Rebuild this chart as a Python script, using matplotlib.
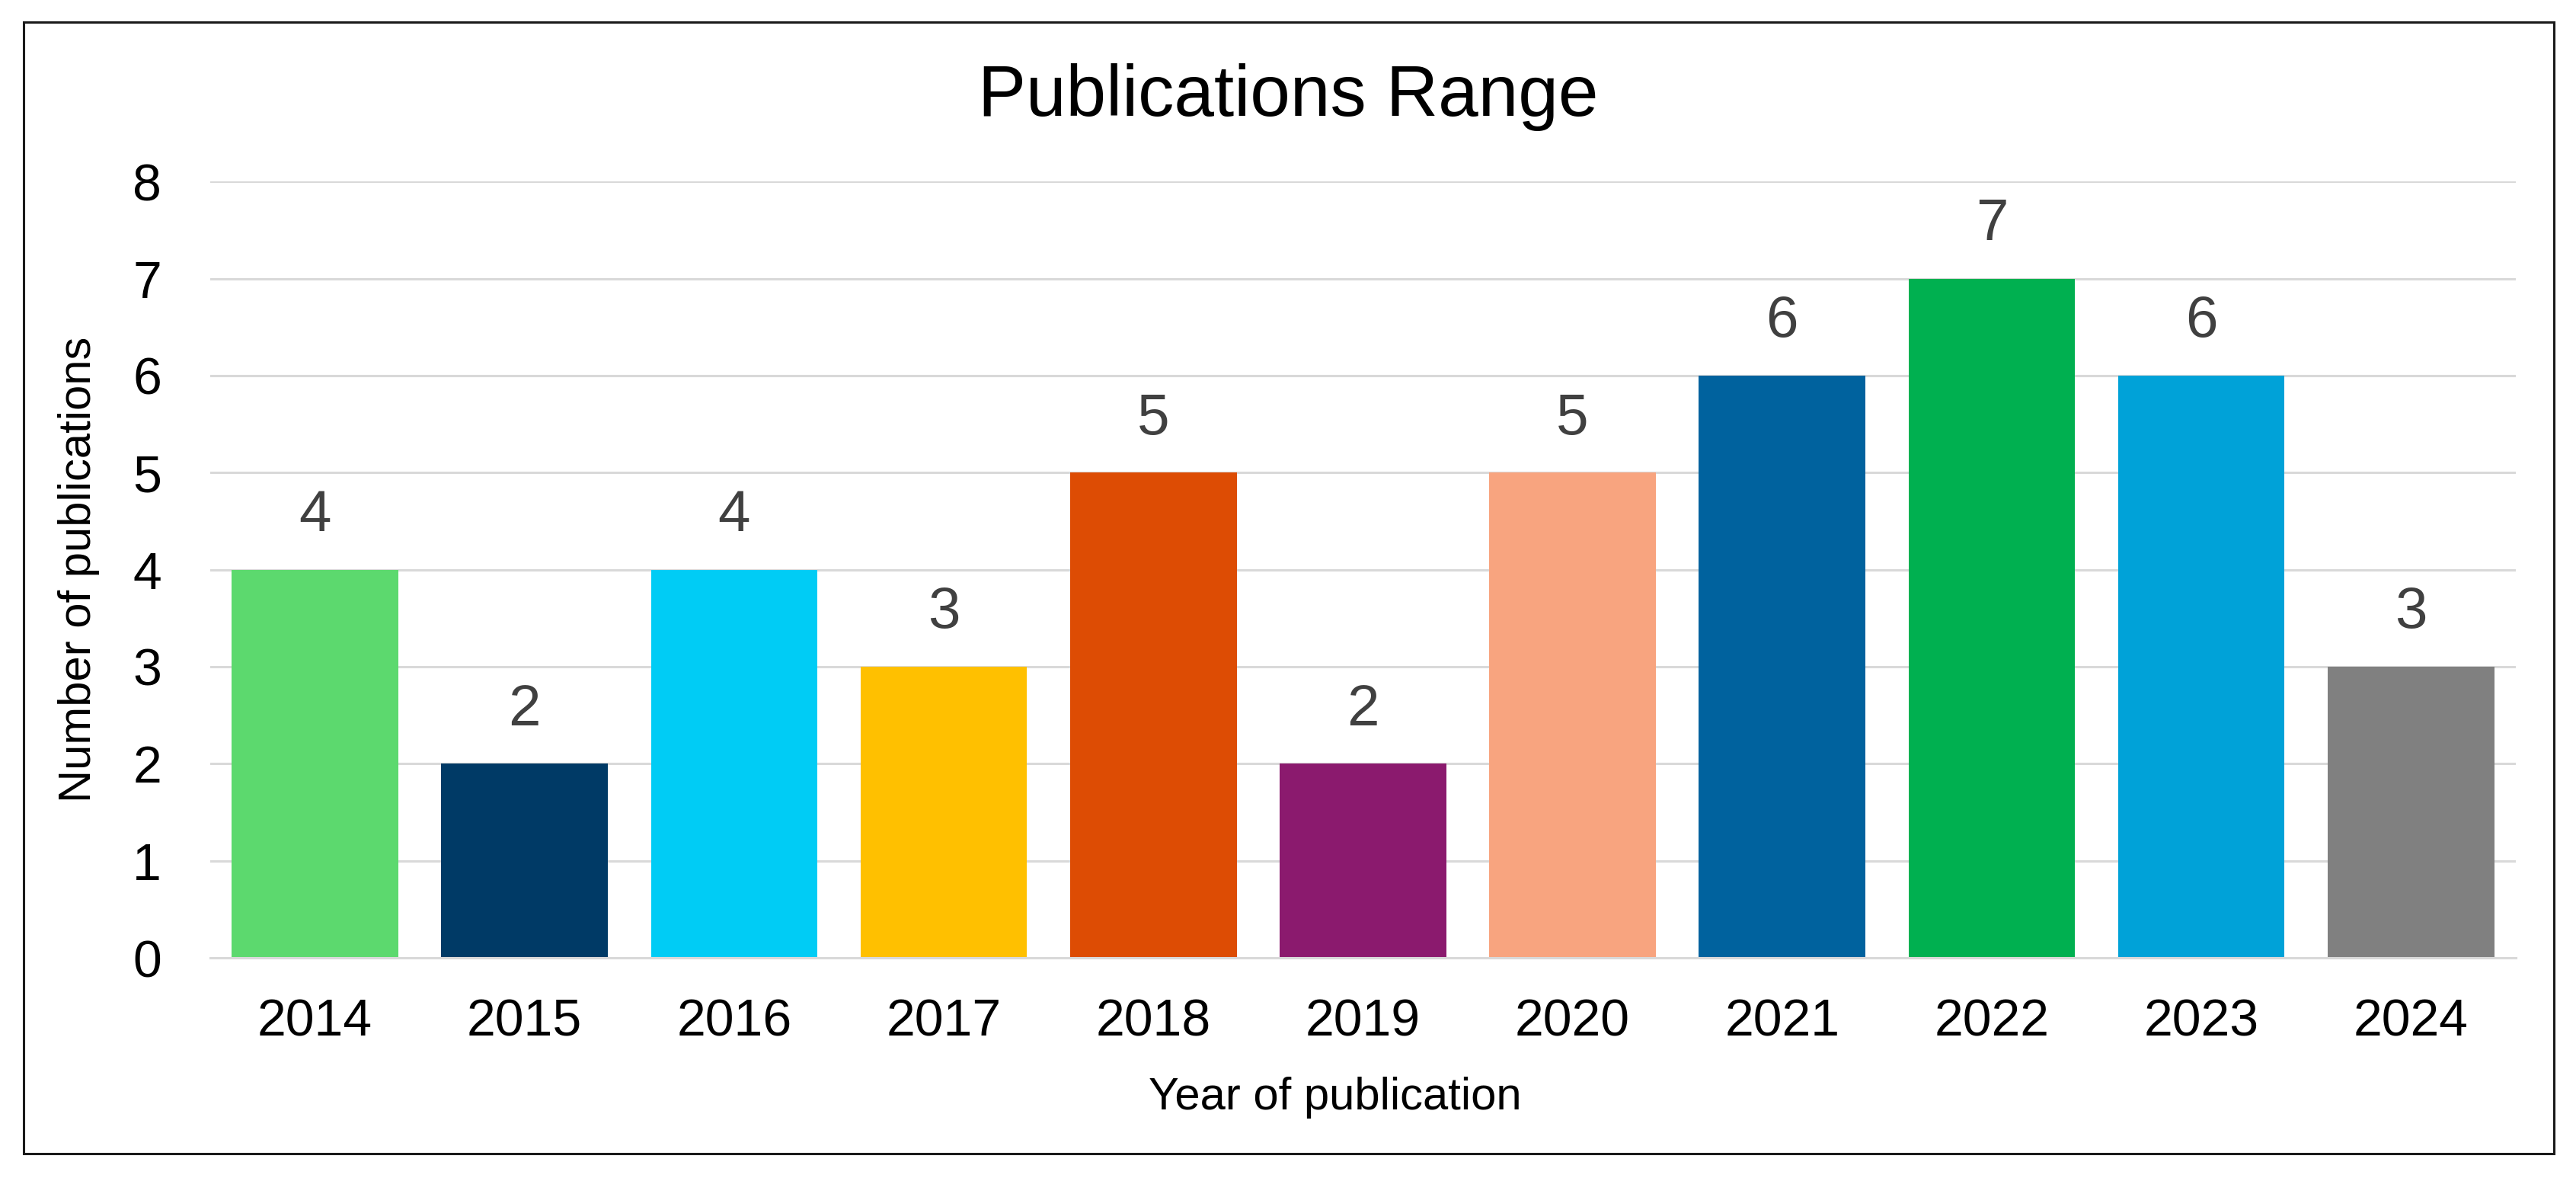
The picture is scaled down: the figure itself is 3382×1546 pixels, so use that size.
"""Bar chart of the number of publications per year."""

from matplotlib import pyplot
from matplotlib.patches import Rectangle
import numpy

# Data.
years = ['2014', '2015', '2016', '2017', '2018', '2019',
         '2020', '2021', '2022', '2023', '2024']
counts = [4, 2, 4, 3, 5, 2, 5, 6, 7, 6, 3]
colors = ['#5CD96E', '#003A66', '#00CCF5', '#FFC000', '#DD4C04', '#8B1A6E',
          '#F8A47F', '#00629E', '#00B050', '#00A2D8', '#808080']
yticks = [0, 1, 2, 3, 4, 5, 6, 7, 8]

pyplot.rc('font', family=['Liberation Sans', 'DejaVu Sans'])

fig = pyplot.figure(figsize=(33.82, 15.46), dpi=100)
ax = fig.add_axes([0.0816, 0.1869, 0.895, 0.659])

x = numpy.arange(len(years))
bars = ax.bar(x, counts, width=0.795, color=colors, zorder=2)
for rect, value in zip(bars, counts):
    ax.annotate(str(value),
                xy=(rect.get_x() + rect.get_width() / 2, rect.get_height()),
                xytext=(0, 25), textcoords='offset points',
                ha='center', va='bottom', fontsize=55, color='#404040')

ax.set_xlim(-0.5, len(years) - 0.5)
ax.set_ylim(yticks[0], yticks[-1])
ax.set_xticks(x)
ax.set_xticklabels(years)
ax.set_yticks(yticks)
ax.tick_params(axis='x', length=0, pad=38, labelsize=49)
ax.tick_params(axis='y', length=0, pad=46, labelsize=49)
ax.grid(axis='y', color='#D9D9D9', linewidth=2.2, zorder=0)
ax.set_axisbelow(True)
for side in ['left', 'right', 'top']:
    ax.spines[side].set_visible(False)
ax.spines['bottom'].set_color('#D9D9D9')
ax.spines['bottom'].set_linewidth(2.2)

ax.set_xlabel('Year of publication', fontsize=43)
ax.xaxis.set_label_coords(0.488, -0.153)
ax.set_ylabel('Number of publications', fontsize=43)
ax.yaxis.set_label_coords(-0.048, 0.5)

fig.text(0.5, 0.902, 'Publications Range', ha='center', va='baseline',
         fontsize=68)

# Outer border around the whole chart.
fig.patches.append(Rectangle((0.00917, 0.0207), 0.9823, 0.9605,
                             transform=fig.transFigure, fill=False,
                             edgecolor='#1A1A1A', linewidth=2.2))

fig.savefig('out.png', dpi=100)
